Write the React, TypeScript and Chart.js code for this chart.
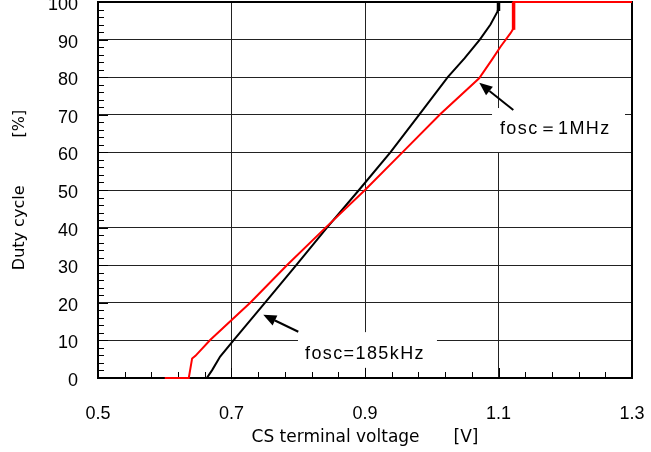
import React, { useEffect, useRef } from "react";
import { Chart, registerables } from "chart.js";

Chart.register(...registerables);

// ---- axis ranges / ticks ----
const xMin = 0.5;
const xMax = 1.3;
const xStep = 0.2;
const yMin = 0;
const yMax = 100;
const yStep = 10;
const xMinorStep = 0.04;
const yMinorStep = 2;

// ---- series: fosc = 185kHz (black) ----
const volt185k = [0.6, 0.663, 0.671, 0.683, 0.703, 0.75, 0.797, 0.843, 0.891, 0.938, 0.981, 1.024, 1.049, 1.072, 1.088, 1.098, 1.1, 1.1, 1.3];
const duty185k = [0, 0, 2.1, 5.7, 10, 20, 30, 40, 50, 60, 70, 80, 85, 90, 94, 97.3, 98.2, 100, 100];
const volt185kEnd = [1.1, 1.1];
const duty185kEnd = [97.6, 100];

// ---- series: fosc = 1MHz (red) ----
const volt1M = [0.6, 0.636, 0.641, 0.646, 0.668, 0.728, 0.783, 0.841, 0.9, 0.956, 1.013, 1.071, 1.09, 1.103, 1.118, 1.1226, 1.1226, 1.3];
const duty1M = [0, 0, 5.2, 5.9, 10.1, 20, 30, 40, 50, 60, 70.2, 79.7, 84.6, 88.1, 91.7, 93.0, 100, 100];
const volt1MEnd = [1.1226, 1.1226];
const duty1MEnd = [92.6, 100];

// ---- texts ----
const xTitle = "CS terminal voltage\u3000\u3000[V]";
const yTitle = "Duty cycle\u3000\u3000\u3000[%]";
const label1M = "fosc\uFF1D1MHz";
const label185k = "fosc=185kHz";

// ---- annotation placement (in data units) ----
const annotations = [
  { text: label1M, box: [1.0903, 71.8, 1.2895, 60.1], textAt: [1.1022, 66.2], from: [1.1222, 71.3], to: [1.0712, 78.5] },
  { text: label185k, box: [0.7996, 12.2, 1.0078, 2.7], textAt: [0.8101, 6.4], from: [0.8001, 12.3], to: [0.7476, 16.8] },
];

const toPoints = (xs: number[], ys: number[]) => xs.map((x, i) => ({ x, y: ys[i] }));

const FONT = "'DejaVu Sans', Verdana, sans-serif";
const TICK_FONT = "'Liberation Sans', Arial, sans-serif";

const decorPlugin = {
  id: "decor",
  beforeDatasetsDraw(chart: any) {
    const ctx = chart.ctx;
    const { left, right, top, bottom } = chart.chartArea;
    const xs = chart.scales.x;
    const ys = chart.scales.y;
    ctx.save();
    // frame top/right
    ctx.strokeStyle = "#000";
    ctx.lineWidth = 2;
    ctx.beginPath();
    ctx.moveTo(left, top);
    ctx.lineTo(right, top);
    ctx.lineTo(right, bottom);
    ctx.stroke();

    // white label boxes
    ctx.fillStyle = "#fff";
    for (const a of annotations) {
      const x0 = xs.getPixelForValue(a.box[0]);
      const y0 = ys.getPixelForValue(a.box[1]);
      const x1 = xs.getPixelForValue(a.box[2]);
      const y1 = ys.getPixelForValue(a.box[3]);
      ctx.fillRect(x0, y0, x1 - x0, y1 - y0);
    }

    // minor / major tick marks inside the plot
    ctx.lineWidth = 1;
    ctx.strokeStyle = "#000";
    ctx.beginPath();
    const nx = Math.round((xMax - xMin) / xMinorStep);
    for (let i = 0; i <= nx; i++) {
      const v = xMin + i * xMinorStep;
      const px = Math.round(xs.getPixelForValue(v)) + 0.5;
      const len = i % 5 === 0 ? 10 : 6;
      ctx.moveTo(px, bottom);
      ctx.lineTo(px, bottom - len);
    }
    const ny = Math.round((yMax - yMin) / yMinorStep);
    for (let i = 0; i <= ny; i++) {
      const v = yMin + i * yMinorStep;
      const py = Math.round(ys.getPixelForValue(v)) + 0.5;
      const len = i % 5 === 0 ? 10 : 6;
      ctx.moveTo(left, py);
      ctx.lineTo(left + len, py);
    }
    ctx.stroke();

    // annotation texts
    ctx.fillStyle = "#000";
    ctx.font = `18px ${TICK_FONT}`;
    ctx.textAlign = "left";
    ctx.textBaseline = "middle";
    try { ctx.letterSpacing = "1.4px"; } catch (e) {}
    for (const a of annotations) {
      ctx.fillText(a.text, xs.getPixelForValue(a.textAt[0]), ys.getPixelForValue(a.textAt[1]));
    }
    try { ctx.letterSpacing = "0px"; } catch (e) {}

    // arrows
    for (const a of annotations) {
      const fx = xs.getPixelForValue(a.from[0]);
      const fy = ys.getPixelForValue(a.from[1]);
      const tx = xs.getPixelForValue(a.to[0]);
      const ty = ys.getPixelForValue(a.to[1]);
      const ang = Math.atan2(ty - fy, tx - fx);
      const head = 13;
      const hw = 5.5;
      const bx = tx - head * Math.cos(ang);
      const by = ty - head * Math.sin(ang);
      ctx.strokeStyle = "#000";
      ctx.lineWidth = 2;
      ctx.beginPath();
      ctx.moveTo(fx, fy);
      ctx.lineTo(bx, by);
      ctx.stroke();
      ctx.fillStyle = "#000";
      ctx.beginPath();
      ctx.moveTo(tx, ty);
      ctx.lineTo(bx + hw * Math.sin(ang), by - hw * Math.cos(ang));
      ctx.lineTo(bx - hw * Math.sin(ang), by + hw * Math.cos(ang));
      ctx.closePath();
      ctx.fill();
    }
    ctx.restore();
  },
};

export default function App() {
  const canvasRef = useRef<HTMLCanvasElement | null>(null);

  useEffect(() => {
    document.body.style.margin = "0";
    const canvas = canvasRef.current;
    if (!canvas) return;
    const chart = new Chart(canvas, {
      type: "line",
      data: {
        datasets: [
          {
            label: "fosc=1MHz",
            data: toPoints(volt1M, duty1M),
            borderColor: "#ff0000",
            borderWidth: 2,
            pointRadius: 0,
            tension: 0,
            clip: false,
          },
          {
            label: "fosc=1MHz end",
            data: toPoints(volt1MEnd, duty1MEnd),
            borderColor: "#ff0000",
            borderWidth: 3.5,
            pointRadius: 0,
            clip: false,
          },
          {
            label: "fosc=185kHz",
            data: toPoints(volt185k, duty185k),
            borderColor: "#000000",
            borderWidth: 2,
            pointRadius: 0,
            tension: 0,
            clip: false,
          },
          {
            label: "fosc=185kHz end",
            data: toPoints(volt185kEnd, duty185kEnd),
            borderColor: "#000000",
            borderWidth: 3.5,
            pointRadius: 0,
            clip: false,
          },
        ],
      },
      options: {
        animation: false,
        responsive: false,
        layout: { padding: { top: 2, right: 19, bottom: 0, left: 0 } },
        plugins: { legend: { display: false }, tooltip: { enabled: false } },
        scales: {
          x: {
            type: "linear",
            min: xMin,
            max: xMax,
            afterFit: (s: any) => {
              s.height = 74;
              s.paddingLeft = 0;
              s.paddingRight = 0;
            },
            ticks: {
              stepSize: xStep,
              callback: (v: any) => Number(v).toFixed(1),
              padding: 25,
              maxRotation: 0,
              autoSkip: false,
              color: "#000",
              font: { family: TICK_FONT, size: 18, lineHeight: 1.2 },
            },
            grid: { color: "#222", lineWidth: 1, drawTicks: false },
            border: { color: "#000", width: 2 },
            title: {
              display: true,
              text: xTitle,
              color: "#000",
              font: { family: FONT, size: 17, lineHeight: 1.2 },
              padding: { top: 0, bottom: 4 },
            },
          },
          y: {
            type: "linear",
            min: yMin,
            max: yMax,
            afterFit: (s: any) => {
              s.width = 98;
              s.paddingTop = 0;
              s.paddingBottom = 0;
            },
            ticks: {
              stepSize: yStep,
              padding: 20,
              labelOffset: 3,
              color: "#000",
              font: { family: TICK_FONT, size: 18, lineHeight: 1.2 },
            },
            grid: { color: "#222", lineWidth: 1, drawTicks: false },
            border: { color: "#000", width: 2 },
            title: {
              display: true,
              text: yTitle,
              color: "#000",
              font: { family: FONT, size: 16, lineHeight: 1.2 },
              padding: { top: 10, bottom: 0 },
            },
          },
        },
      },
      plugins: [decorPlugin],
    } as any);
    return () => chart.destroy();
  }, []);

  return (
    <div style={{ position: "fixed", left: 0, top: 0, width: 651, height: 452, background: "#fff" }}>
      <canvas ref={canvasRef} width={651} height={452} style={{ width: 651, height: 452, display: "block" }} />
    </div>
  );
}
